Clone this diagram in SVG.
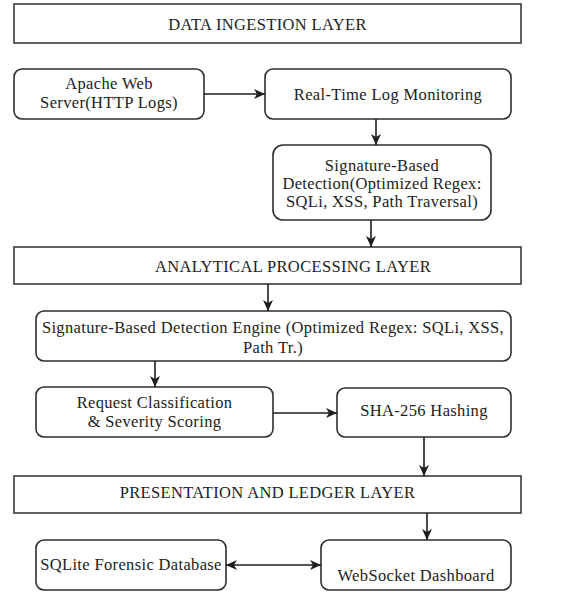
<svg xmlns="http://www.w3.org/2000/svg" width="574" height="595" viewBox="0 0 574 595">
<style>
  .bg { fill: #ffffff; }
  .layer { fill: #ffffff; stroke: #3a3a3a; stroke-width: 1.6; }
  .node { fill: #ffffff; stroke: #2e2e2e; stroke-width: 1.6; }
  .t { font-family: "Liberation Serif", "Times New Roman", serif; font-size: 16.5px; letter-spacing: 0.35px; fill: #222222; text-anchor: middle; }
  .lt { font-family: "Liberation Serif", "Times New Roman", serif; font-size: 16.5px; letter-spacing: 0.35px; fill: #222222; text-anchor: middle; }
  .conn { fill: none; stroke: #1e1e1e; stroke-width: 1.6; }
</style>
<defs>
  <marker id="arr" markerUnits="userSpaceOnUse" markerWidth="12" markerHeight="10" refX="11" refY="5" orient="auto-start-reverse">
    <path d="M0,0 L11,5 L0,10 L3,5 Z" fill="#1e1e1e"/>
  </marker>
</defs>
<rect class="bg" x="0" y="0" width="574" height="595"/>

<g id="layer-ingestion">
  <rect class="layer" x="14" y="4" width="507" height="39"/>
  <text class="lt" x="267.5" y="30">DATA INGESTION LAYER</text>
</g>
<g id="apache">
  <rect class="node" x="14" y="69" width="190" height="50" rx="8"/>
  <text class="t" x="109" y="88.5">Apache Web</text>
  <text class="t" x="109" y="107.5">Server(HTTP Logs)</text>
</g>
<g id="realtime">
  <rect class="node" x="265" y="69" width="246" height="50" rx="8"/>
  <text class="t" x="388" y="100">Real-Time Log Monitoring</text>
</g>
<g id="sigdetect">
  <rect class="node" x="273" y="145" width="218" height="75" rx="10"/>
  <text class="t" x="382" y="171">Signature-Based</text>
  <text class="t" x="382" y="189">Detection(Optimized Regex:</text>
  <text class="t" x="382" y="207">SQLi, XSS, Path Traversal)</text>
</g>
<g id="layer-analytical">
  <rect class="layer" x="14" y="247" width="507" height="37"/>
  <text class="lt" x="293" y="272">ANALYTICAL PROCESSING LAYER</text>
</g>
<g id="engine">
  <rect class="node" x="36" y="311" width="475" height="50" rx="8"/>
  <text class="t" x="273" y="333">Signature-Based Detection Engine (Optimized Regex: SQLi, XSS,</text>
  <text class="t" x="273" y="353">Path Tr.)</text>
</g>
<g id="classify">
  <rect class="node" x="36" y="387" width="237" height="50" rx="8"/>
  <text class="t" x="154.5" y="408">Request Classification</text>
  <text class="t" x="154.5" y="427">&amp; Severity Scoring</text>
</g>
<g id="sha">
  <rect class="node" x="337" y="388" width="174" height="49" rx="8"/>
  <text class="t" x="424" y="416">SHA-256 Hashing</text>
</g>
<g id="layer-presentation">
  <rect class="layer" x="14" y="476" width="507" height="37"/>
  <text class="lt" x="267.5" y="498">PRESENTATION AND LEDGER LAYER</text>
</g>
<g id="sqlite">
  <rect class="node" x="36" y="540" width="190" height="50" rx="8"/>
  <text class="t" x="131" y="570">SQLite Forensic Database</text>
</g>
<g id="websocket">
  <rect class="node" x="321" y="540" width="190" height="50" rx="8"/>
  <text class="t" x="416" y="581">WebSocket Dashboard</text>
</g>

<g id="connectors">
  <line class="conn" x1="204" y1="94" x2="265" y2="94" marker-end="url(#arr)"/>
  <line class="conn" x1="376" y1="119" x2="376" y2="145" marker-end="url(#arr)"/>
  <line class="conn" x1="371" y1="220" x2="371" y2="247" marker-end="url(#arr)"/>
  <line class="conn" x1="268" y1="284" x2="268" y2="311" marker-end="url(#arr)"/>
  <line class="conn" x1="155" y1="361" x2="155" y2="387" marker-end="url(#arr)"/>
  <line class="conn" x1="273" y1="413" x2="337" y2="413" marker-end="url(#arr)"/>
  <line class="conn" x1="424" y1="437" x2="424" y2="476" marker-end="url(#arr)"/>
  <line class="conn" x1="427" y1="513" x2="427" y2="540" marker-end="url(#arr)"/>
  <line class="conn" x1="226" y1="565" x2="321" y2="565" marker-start="url(#arr)" marker-end="url(#arr)"/>
</g>
</svg>
